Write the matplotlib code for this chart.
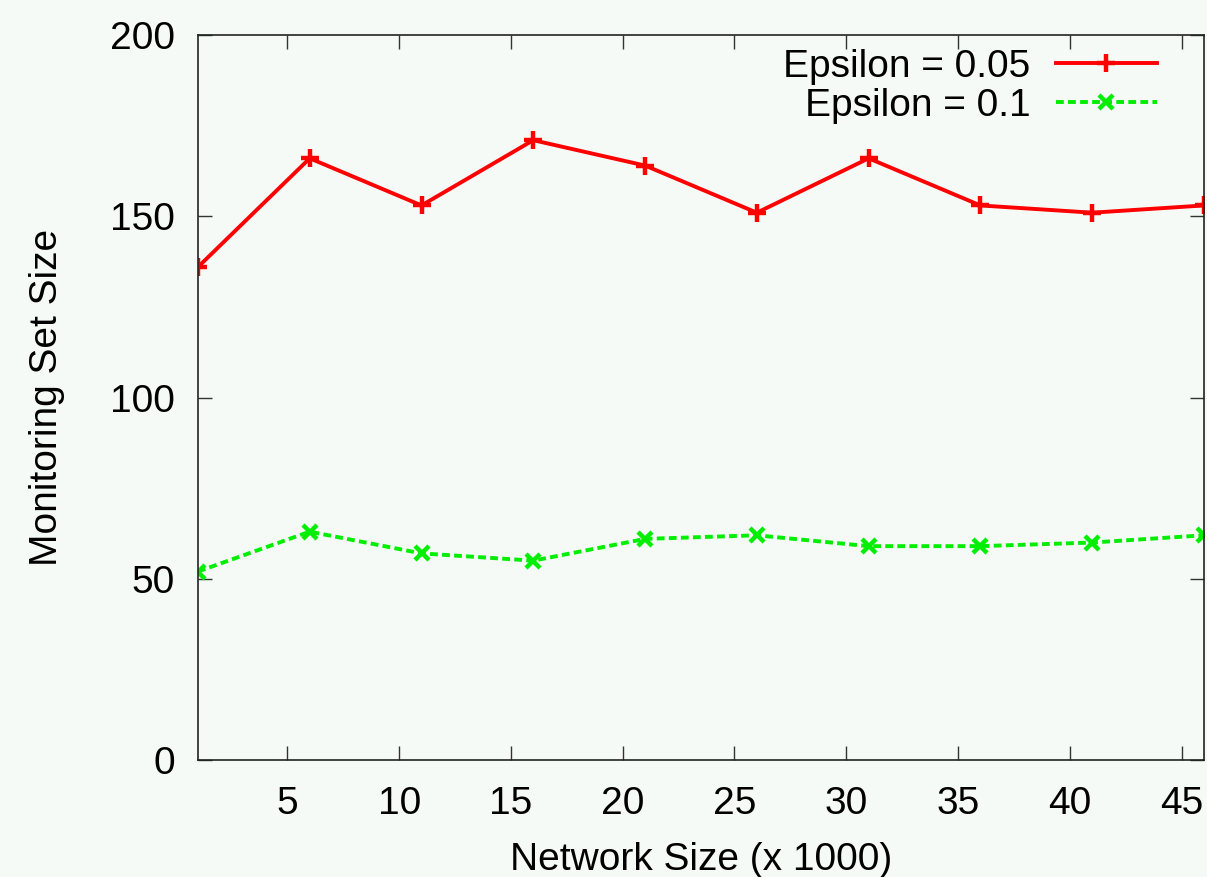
import matplotlib
matplotlib.use("Agg")
import matplotlib.pyplot as plt

network_size = [1, 6, 11, 16, 21, 26, 31, 36, 41, 46]
eps_005 = [136, 166, 153, 171, 164, 151, 166, 153, 151, 153]
eps_01 = [52, 63, 57, 55, 61, 62, 59, 59, 60, 62]
x_ticks = [5, 10, 15, 20, 25, 30, 35, 40, 45]
y_ticks = [0, 50, 100, 150, 200]

plt.rcParams['font.family'] = ['Liberation Sans', 'DejaVu Sans']
bg = '#f6faf7'
fig = plt.figure(figsize=(12.07, 8.77), dpi=100, facecolor=bg)
ax = fig.add_axes([0.164, 0.1334, 0.8335, 0.8266], facecolor=bg)

ax.plot(network_size, eps_005, color='#ff0000', lw=2.8, marker='+', ms=13, mew=3.2,
        label='Epsilon = 0.05')
ax.plot(network_size, eps_01, color='#00ee00', lw=2.8, ls=(0, (2.0, 1.1)), marker='x', ms=10, mew=3.2,
        label='Epsilon = 0.1')

ax.set_xlim(1, 46)
ax.set_ylim(0, 200)
ax.set_xticks(x_ticks)
ax.set_yticks(y_ticks)
ax.tick_params(direction='in', length=10, width=1, colors='#333333', labelcolor='black',
               labelsize=28, top=True, right=True)
ax.tick_params(axis='y', pad=16.5)
ax.tick_params(axis='x', pad=18.4)
for s in ax.spines.values():
    s.set_color('#222222')
    s.set_linewidth(1.2)

ax.set_xlabel('Network Size (x 1000)', fontsize=28, labelpad=15)
ax.set_ylabel('Monitoring Set Size', fontsize=28, labelpad=32.5)

leg = ax.legend(loc='upper right', frameon=False, fontsize=28, markerfirst=False,
                handlelength=2.6, handletextpad=0.65, labelspacing=0.08,
                borderpad=0.0, borderaxespad=0.0, bbox_to_anchor=(0.953, 0.981))
for t in leg.get_texts():
    t.set_ha('right')

fig.savefig('out.png', dpi=100, facecolor=bg)
